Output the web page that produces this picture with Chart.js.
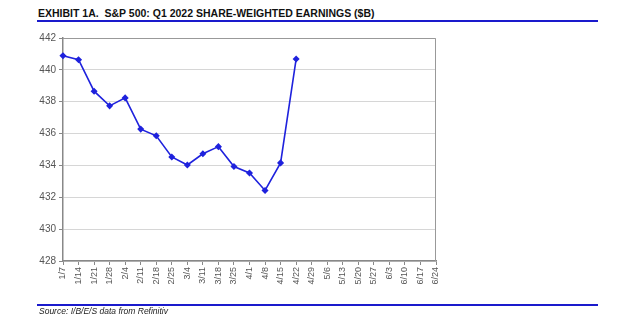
<!DOCTYPE html>
<html lang="en">
<head>
  <meta charset="UTF-8">
  <title>S&amp;P 500: Q1 2022 Share-Weighted Earnings</title>
  <style>
    html, body { margin: 0; padding: 0; background: #fff; }
    body { width: 640px; height: 322px; position: relative; overflow: hidden; font-family: "Liberation Sans", Arial, sans-serif; }
    #title { position: absolute; left: 38px; top: 7px; font-size: 10.5px; font-weight: bold; color: #111; white-space: pre; }
    .rule { position: absolute; left: 37px; width: 561px; height: 2px; background: #1a1acc; }
    #source { position: absolute; left: 39px; top: 306px; font-size: 8.5px; font-style: italic; color: #222; }
    #chart-box { position: absolute; left: 0; top: 0; width: 640px; height: 322px; }
  </style>
  <script src="https://cdn.jsdelivr.net/npm/chart.js"></script>
</head>
<body>
  <div id="title">EXHIBIT 1A.  S&amp;P 500: Q1 2022 SHARE-WEIGHTED EARNINGS ($B)</div>
  <div class="rule" style="top:20px;"></div>
  <div id="chart-box"><canvas id="chart" width="640" height="322"></canvas></div>
  <div class="rule" style="top:304px;"></div>
  <div id="source">Source: I/B/E/S data from Refinitiv</div>
  <script>
    // weekly dates (x axis)
    const weeks = ['1/7', '1/14', '1/21', '1/28', '2/4', '2/11', '2/18', '2/25', '3/4', '3/11', '3/18', '3/25',
      '4/1', '4/8', '4/15', '4/22', '4/29', '5/6', '5/13', '5/20', '5/27', '6/3', '6/10', '6/17', '6/24'];
    // share-weighted earnings, $B (only reported weeks)
    const earnings = [440.89, 440.64, 438.66, 437.74, 438.24, 436.28, 435.86, 434.53, 434.03, 434.73,
      435.18, 433.93, 433.53, 432.43, 434.16, 440.68];
    const yMin = 428, yMax = 442, yStep = 2;

    // grey frame round the plot area
    const frame = {
      id: 'frame',
      afterDraw(chart) {
        const a = chart.chartArea, ctx = chart.ctx;
        ctx.save();
        ctx.strokeStyle = '#999';
        ctx.lineWidth = 1;
        ctx.beginPath();
        ctx.moveTo(a.left, a.top + 0.5);
        ctx.lineTo(a.right - 0.5, a.top + 0.5);
        ctx.lineTo(a.right - 0.5, a.bottom);
        ctx.stroke();
        ctx.restore();
      }
    };

    new Chart(document.getElementById('chart').getContext('2d'), {
      type: 'line',
      data: {
        labels: weeks,
        datasets: [{
          data: earnings,
          borderColor: '#1f22dd',
          backgroundColor: '#1f22dd',
          borderWidth: 1.6,
          pointStyle: 'rectRot',
          pointRadius: 2.4,
          pointHoverRadius: 2.4,
          tension: 0,
          fill: false
        }]
      },
      options: {
        responsive: false,
        animation: false,
        layout: { padding: { left: 0, top: 38, right: 204, bottom: 0 } },
        plugins: { legend: { display: false }, tooltip: { enabled: false } },
        scales: {
          x: {
            offset: false,
            afterFit(s) { s.height = 61; },
            grid: { drawOnChartArea: false, drawTicks: true, tickLength: 4, color: '#888' },
            border: { color: '#888', width: 1.5 },
            ticks: {
              autoSkip: false, minRotation: 90, maxRotation: 90, padding: 2,
              color: '#555', font: { family: '"Liberation Sans", Arial, sans-serif', size: 9 }
            }
          },
          y: {
            min: yMin, max: yMax,
            afterFit(s) { s.width = 63; },
            grid: { color: '#d6d6d6', lineWidth: 1, tickLength: 4, tickColor: '#888' },
            border: { color: '#888', width: 1.5 },
            ticks: {
              stepSize: yStep, padding: 3,
              color: '#555', font: { family: '"Liberation Sans", Arial, sans-serif', size: 10 }
            }
          }
        }
      },
      plugins: [frame]
    });
  </script>
</body>
</html>
